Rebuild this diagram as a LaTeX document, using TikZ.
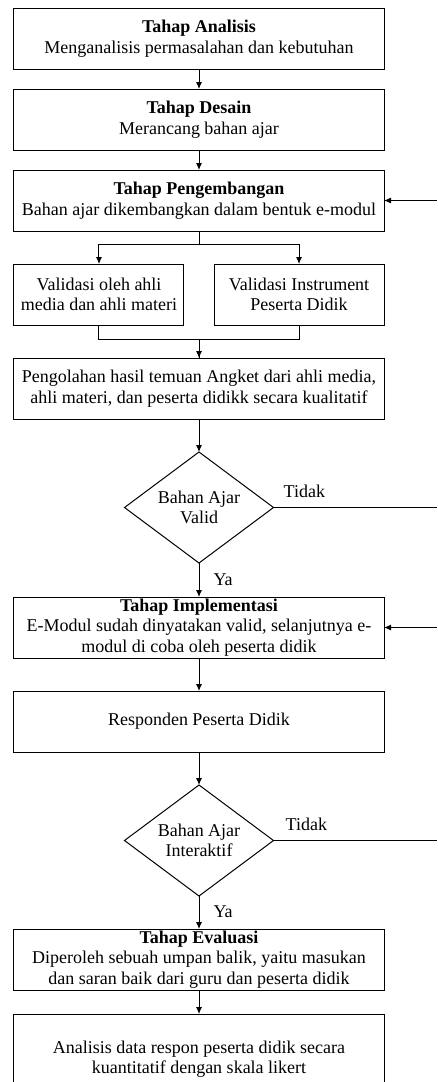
\documentclass[tikz,border=0pt]{standalone}
\usepackage{fontspec}
\setmainfont{Liberation Serif}
\usepackage{tikz}
\usetikzlibrary{arrows.meta,shapes.geometric}
\usetikzlibrary{positioning}
\tikzstyle{tahap} = [rectangle, minimum width=370pt, minimum height=61pt, inner xsep=4pt, inner ysep=0pt, outer sep=0pt, text centered, align=center, draw=black, line width=1pt]
\tikzstyle{valbox} = [tahap, minimum width=170pt]
\tikzstyle{cek} = [diamond, minimum width=149pt, minimum height=111pt, inner sep=0pt, outer sep=0pt, aspect=1.34, align=center, draw=black, line width=1pt]
\tikzstyle{panah} = [-{Latex[length=7pt,width=6pt]}, line width=1pt]
\tikzstyle{ket} = [inner sep=0pt, anchor=base west]

\begin{document}
\begin{tikzpicture}[node distance=33pt, font=\fontsize{18}{20.5}\selectfont]
\useasboundingbox (-199pt,38.5pt) rectangle (238pt,-1043.5pt);
\coordinate (kanan) at (238pt,0);

\node (analisis) [tahap] {\textbf{Tahap Analisis}\\Menganalisis permasalahan dan kebutuhan};
\node (desain) [tahap, below=20pt of analisis] {\textbf{Tahap Desain}\\Merancang bahan ajar};
\node (kembang) [tahap, below=20pt of desain] {\textbf{Tahap Pengembangan}\\Bahan ajar dikembangkan dalam bentuk e-modul};
\node (ahli) [valbox, below right=33pt and 0pt of kembang.south west] {Validasi oleh ahli\\media dan ahli materi};
\node (instrumen) [valbox, below left=33pt and 0pt of kembang.south east] {Validasi Instrument\\Peserta Didik};
\coordinate (tengah) at (kembang.south |- ahli.south);
\node (olah) [tahap, below=of tengah] {Pengolahan hasil temuan Angket dari ahli media,\\ahli materi, dan peserta didikk secara kualitatif};
\node (valid) [cek, below=of olah] {Bahan Ajar\\Valid};
\node (implementasi) [tahap, below=34pt of valid] {\textbf{Tahap Implementasi}\\E-Modul sudah dinyatakan valid, selanjutnya e-\\modul di coba oleh peserta didik};
\node (responden) [tahap, below=of implementasi] {Responden Peserta Didik};
\node (interaktif) [cek, below=of responden] {Bahan Ajar\\Interaktif};
\node (evaluasi) [tahap, below=of interaktif] {\textbf{Tahap Evaluasi}\\Diperoleh sebuah umpan balik, yaitu masukan\\dan saran baik dari guru dan peserta didik};
\node (likert) [tahap, minimum height=90pt, below=24pt of evaluasi] {Analisis data respon peserta didik secara\\kuantitatif dengan skala likert};

\draw[panah] (analisis) -- (desain);
\draw[panah] (desain) -- (kembang);
\draw[panah] (kembang.south) -- ++(0,-13pt) -| (ahli.north);
\draw[panah] (kembang.south) -- ++(0,-13pt) -| (instrumen.north);
\draw[panah] (ahli.south) -- ++(0,-14pt) -| (olah.north);
\draw (instrumen.south) -- ++(0,-14pt) -| (olah.north);
\draw[panah] (olah) -- (valid);
\draw[panah] (valid) -- (implementasi) node[ket, at start, xshift=14pt, yshift=-22pt] {Ya};
\draw (valid.east) -- (valid.east -| kanan) node[ket, at start, xshift=10pt, yshift=10pt] {Tidak};
\draw[panah] (kembang.east -| kanan) -- (kembang.east);
\draw[panah] (implementasi) -- (responden);
\draw[panah] (responden) -- (interaktif);
\draw[panah] (interaktif) -- (evaluasi) node[ket, at start, xshift=14pt, yshift=-21pt] {Ya};
\draw (interaktif.east) -- (interaktif.east -| kanan) node[ket, at start, xshift=12pt, yshift=10pt] {Tidak};
\draw[panah] (implementasi.east -| kanan) -- (implementasi.east);
\draw[panah] (evaluasi) -- (likert);
\end{tikzpicture}
\end{document}
